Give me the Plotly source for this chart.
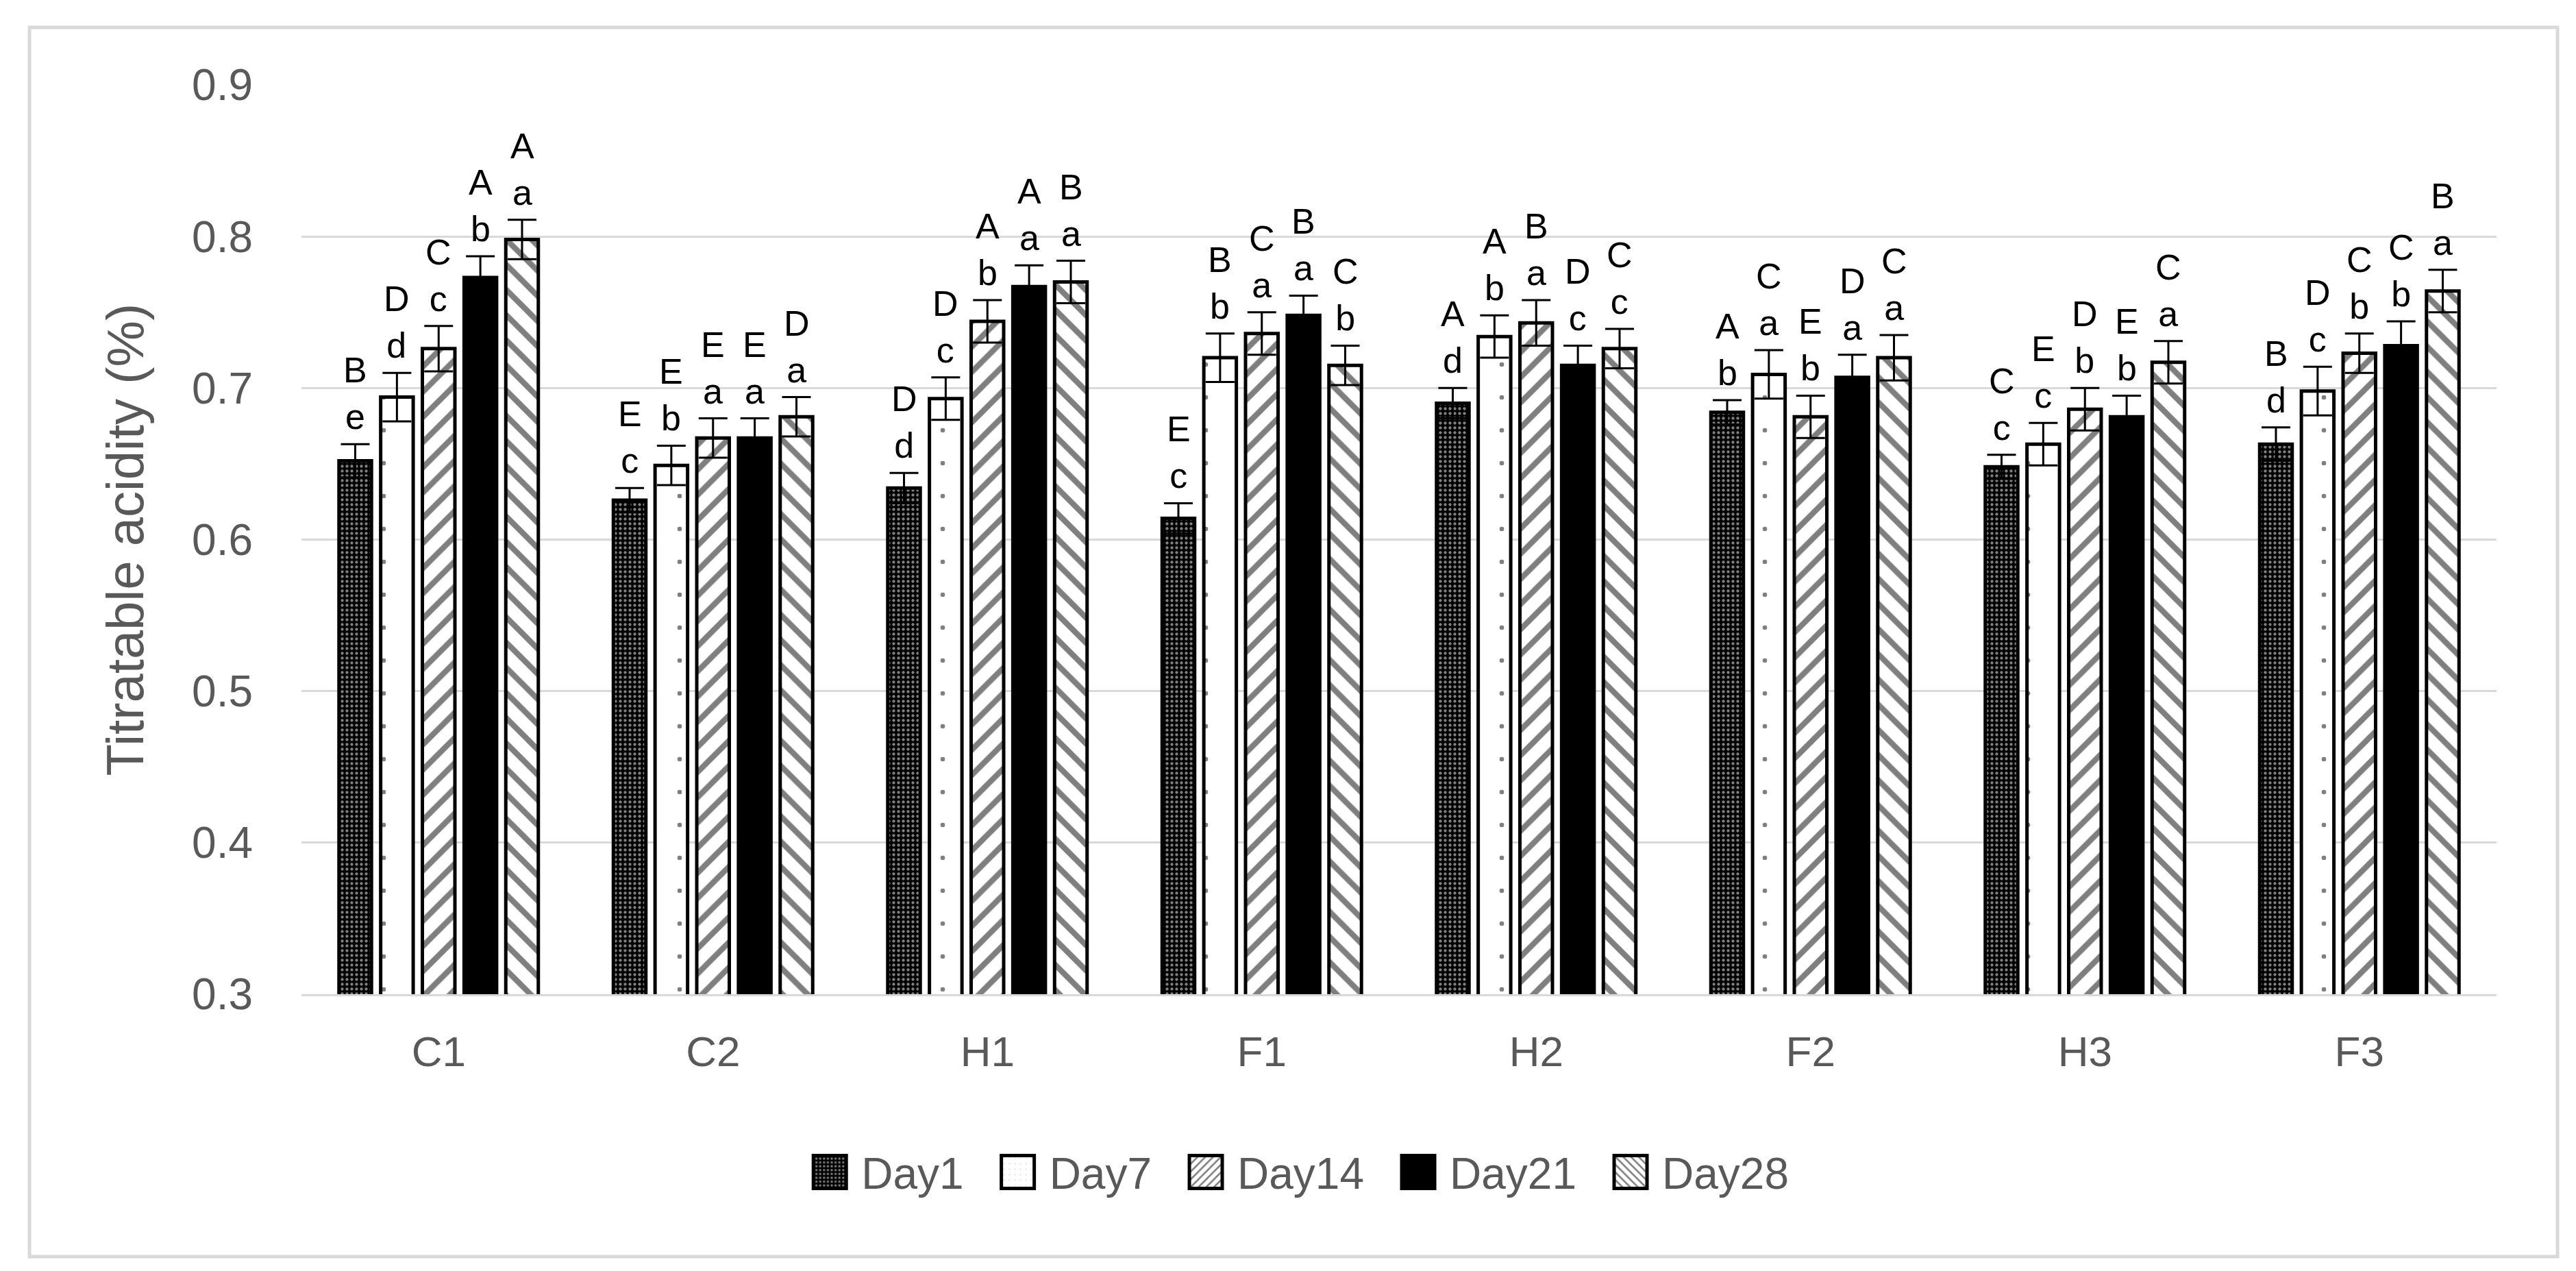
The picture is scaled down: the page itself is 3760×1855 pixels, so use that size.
import plotly.graph_objects as go

groups = ["C1", "C2", "H1", "F1", "H2", "F2", "H3", "F3"]
days = ["Day1", "Day7", "Day14", "Day21", "Day28"]

day1 = [0.652, 0.626, 0.634, 0.614, 0.690, 0.684, 0.648, 0.663]
day7 = [0.694, 0.649, 0.693, 0.720, 0.734, 0.709, 0.663, 0.698]
day14 = [0.726, 0.667, 0.744, 0.736, 0.743, 0.681, 0.686, 0.723]
day21 = [0.773, 0.667, 0.767, 0.748, 0.715, 0.707, 0.681, 0.728]
day28 = [0.798, 0.681, 0.770, 0.715, 0.726, 0.720, 0.717, 0.764]

err1 = [0.011, 0.008, 0.010, 0.010, 0.010, 0.008, 0.008, 0.011]
err7 = [0.016, 0.013, 0.014, 0.016, 0.014, 0.016, 0.014, 0.016]
err14 = [0.015, 0.013, 0.014, 0.014, 0.015, 0.014, 0.014, 0.013]
err21 = [0.014, 0.013, 0.014, 0.013, 0.013, 0.015, 0.014, 0.016]
err28 = [0.013, 0.013, 0.014, 0.013, 0.013, 0.015, 0.014, 0.014]

up1 = ["B", "E", "D", "E", "A", "A", "C", "B"]
up7 = ["D", "E", "D", "B", "A", "C", "E", "D"]
up14 = ["C", "E", "A", "C", "B", "E", "D", "C"]
up21 = ["A", "E", "A", "B", "D", "D", "E", "C"]
up28 = ["A", "D", "B", "C", "C", "C", "C", "B"]
lo1 = ["e", "c", "d", "c", "d", "b", "c", "d"]
lo7 = ["d", "b", "c", "b", "b", "a", "c", "c"]
lo14 = ["c", "a", "b", "a", "a", "b", "b", "b"]
lo21 = ["b", "a", "a", "a", "c", "a", "b", "b"]
lo28 = ["a", "a", "a", "b", "c", "a", "a", "a"]

values = [day1, day7, day14, day21, day28]
errors = [err1, err7, err14, err21, err28]
uppers = [up1, up7, up14, up21, up28]
lowers = [lo1, lo7, lo14, lo21, lo28]

patterns = [
    dict(shape=".", fgcolor="white", bgcolor="black", size=7, solidity=0.3),
    dict(shape=".", fgcolor="black", bgcolor="white", size=48, solidity=0.015),
    dict(shape="/", fgcolor="black", bgcolor="white", size=26, solidity=0.32),
    None,
    dict(shape="\\", fgcolor="black", bgcolor="white", size=26, solidity=0.32),
]

FONT = "Liberation Sans"
GRAY = "#595959"
BARGAP = 0.24
BARGROUPGAP = 0.22

fig = go.Figure()
for i, name in enumerate(days):
    marker = dict(color="black" if patterns[i] is None else "white",
                  line=dict(color="black", width=5))
    if patterns[i] is not None:
        marker["pattern"] = patterns[i]
    fig.add_trace(go.Bar(
        name=name, x=groups, y=values[i],
        marker=marker,
        error_y=dict(type="data", array=errors[i], visible=True,
                     color="black", thickness=3, width=21),
    ))

annotations = []
n = len(days)
slot = (1 - BARGAP) / n
for i in range(n):
    for j, g in enumerate(groups):
        xpos = j + (i - (n - 1) / 2) * slot
        ytop = values[i][j] + errors[i][j]
        annotations.append(dict(x=xpos, y=ytop, xref="x", yref="y",
                                text=uppers[i][j] + "<br>" + lowers[i][j],
                                showarrow=False, yanchor="bottom", yshift=10,
                                borderpad=0,
                                font=dict(family=FONT, size=52, color="black")))

fig.update_layout(
    width=3760, height=1855, autosize=False,
    margin=dict(l=432, r=124, t=116, b=412),
    paper_bgcolor="white", plot_bgcolor="white",
    barmode="group", bargap=BARGAP, bargroupgap=BARGROUPGAP,
    font=dict(family=FONT, color=GRAY),
    xaxis=dict(type="category", showline=True, linecolor="#d9d9d9", linewidth=3,
               showgrid=False, ticks="", ticklabelstandoff=28,
               tickfont=dict(family=FONT, size=62, color=GRAY)),
    yaxis=dict(range=[0.3, 0.9], tick0=0.3, dtick=0.1, tickformat=".1f",
               showgrid=True, gridcolor="#d9d9d9", gridwidth=3,
               zeroline=False, showline=False, ticks="", ticklabelstandoff=70,
               tickfont=dict(family=FONT, size=64, color=GRAY),
               title=dict(text="Titratable acidity (%)", standoff=45,
                          font=dict(family=FONT, size=76, color=GRAY))),
    legend=dict(orientation="h", xref="container", yref="container",
                x=0.497, y=0.082, xanchor="center", yanchor="middle",
                font=dict(family=FONT, size=64, color=GRAY), itemwidth=110,
                traceorder="normal"),
    annotations=annotations,
    shapes=[dict(type="rect", xref="paper", yref="paper",
                 x0=-0.1239, x1=1.0278, y0=-0.2886, y1=1.0633,
                 line=dict(color="#d9d9d9", width=5), fillcolor="rgba(0,0,0,0)",
                 layer="below")],
)

js = """
var gd = document.getElementById('{plot_id}');
function fixLegend(){
  gd.querySelectorAll('.legend .traces').forEach(function(it){
    var p = it.querySelector('.legendpoints path');
    var t = it.querySelector('text.legendtext');
    if(!p || !t) return;
    p.removeAttribute('transform');
    p.setAttribute('d','M24,24H-24V-24H24Z');
    p.style.strokeWidth = '5px';
    var tb = t.getBoundingClientRect();
    var pb = p.getBoundingClientRect();
    var pc = (pb.left + pb.right) / 2;
    var target = tb.left - 20 - 26;
    p.setAttribute('transform', 'translate(' + (target - pc) + ',0)');
  });
}
fixLegend();
gd.on('plotly_afterplot', fixLegend);
"""

fig.write_html("out.html", post_script=js)
